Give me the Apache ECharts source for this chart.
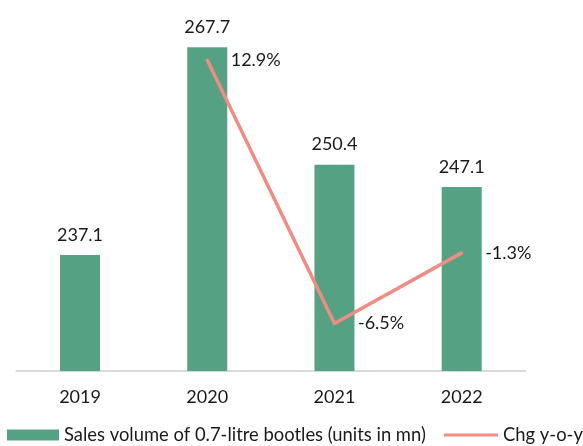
<!DOCTYPE html>
<html>
<head>
<meta charset="utf-8">
<script src="https://cdn.jsdelivr.net/npm/echarts@6/dist/echarts.min.js"></script>
<style>
  html, body { margin: 0; padding: 0; background: #ffffff; }
  #chart { width: 583px; height: 446px; }
</style>
</head>
<body>
<div id="chart"></div>
<script>
// Annual figures
const years = ['2019', '2020', '2021', '2022'];
const salesVolume = [237.1, 267.7, 250.4, 247.1];
const changeYoY = [null, 12.9, -6.5, -1.3];

const barName = 'Sales volume of 0.7-litre bootles (units in mn)';
const lineName = 'Chg y-o-y';

const green = '#55A184';
const salmon = '#F28B82';
const textColor = '#1a1a1a';
const font = 'Lato, "Open Sans", sans-serif';

const chart = echarts.init(document.getElementById('chart'));
chart.setOption({
  animation: false,
  textStyle: { fontFamily: font },
  grid: { left: 16.4, right: 57.7, top: 31.6, bottom: 75, containLabel: false },
  legend: [
    {
      data: [{ name: barName, icon: 'rect' }],
      left: 7, top: 426, padding: 0,
      itemWidth: 52, itemHeight: 11, itemGap: 4,
      textStyle: { fontFamily: font, fontSize: 18.4, color: textColor }
    },
    {
      data: [{ name: lineName, icon: 'rect' }],
      left: 444, top: 426, padding: 0,
      itemWidth: 54, itemHeight: 3,
      textStyle: { fontFamily: font, fontSize: 18.4, color: textColor }
    }
  ],
  xAxis: {
    type: 'category',
    data: years,
    axisLine: { onZero: false, lineStyle: { color: '#d9d9d9', width: 2 } },
    axisTick: { show: false },
    axisLabel: { fontFamily: font, fontSize: 18, color: textColor, margin: 17 }
  },
  yAxis: [
    { type: 'value', min: 220, max: 270, show: false, splitLine: { show: false } },
    { type: 'value', min: -10, max: 15, show: false, splitLine: { show: false } }
  ],
  series: [
    {
      name: barName,
      type: 'bar',
      data: salesVolume,
      barWidth: 40,
      itemStyle: { color: green },
      label: {
        show: true, position: 'top', distance: 11,
        fontFamily: font, fontSize: 18, color: textColor
      }
    },
    {
      name: lineName,
      type: 'line',
      yAxisIndex: 1,
      data: changeYoY,
      symbol: 'circle',
      symbolSize: 3,
      itemStyle: { color: salmon },
      lineStyle: { color: salmon, width: 3.5 },
      label: {
        show: true, position: 'right', distance: 22,
        fontFamily: font, fontSize: 18, color: textColor,
        formatter: p => p.value + '%'
      }
    }
  ]
});
</script>
</body>
</html>
